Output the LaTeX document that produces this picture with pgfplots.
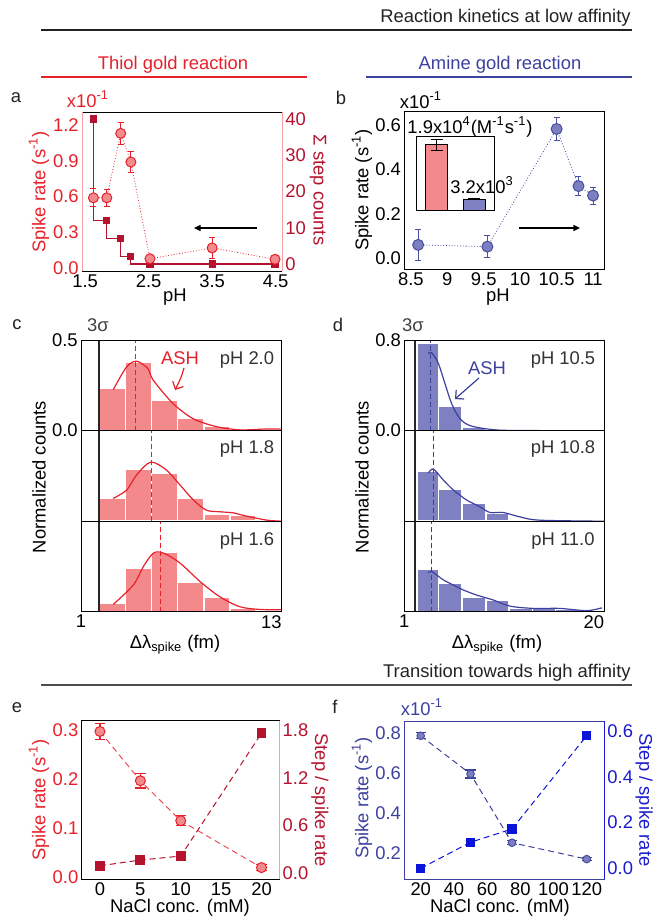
\documentclass[border=0pt]{standalone}
\usepackage{fontspec}
\setmainfont{Liberation Sans}
\usepackage{pgfplots}
\pgfplotsset{compat=1.18}
\usetikzlibrary{arrows.meta}

\definecolor{redT}{HTML}{E8202A}
\definecolor{crim}{HTML}{B5122E}
\definecolor{pinkF}{HTML}{F28B8E}
\definecolor{pinkL}{HTML}{F2A0A2}
\definecolor{barR}{HTML}{F4898C}
\definecolor{navy}{HTML}{3D419E}
\definecolor{circB}{HTML}{7B7FC2}
\definecolor{circE}{HTML}{4A4E9E}
\definecolor{barB}{HTML}{7E80C2}
\definecolor{blueR}{HTML}{1A1AD0}
\definecolor{sqB}{HTML}{0A14D8}
\definecolor{txt}{HTML}{222222}

\newcommand\fs{\fontsize{9.2}{11}\selectfont}

\pgfplotsset{
  base/.style={scale only axis, anchor=south west, axis on top,
    /pgf/number format/assume math mode=true,
    tick style={draw=none},
    tick label style={font=\fs, inner sep=1.5pt},
    axis line style={line width=0.5pt}},
  oneprec/.style={/pgf/number format/fixed, /pgf/number format/fixed zerofill, /pgf/number format/precision=1},
  hc/.style={base, xmin=1, xmax=13, ymin=0, ymax=0.5, width=100.35pt, height=45.3pt,
    xtick=\empty, ytick=\empty},
  hd/.style={base, xmin=1, xmax=20, ymin=0, ymax=0.8, width=99.85pt, height=45.3pt,
    xtick=\empty, ytick=\empty},
  barsR/.style={ybar interval, fill=barR, draw=white, line width=0.8pt},
  barsB/.style={ybar interval, fill=barB, draw=white, line width=0.8pt},
}

\begin{document}
\fs
\begin{tikzpicture}[x=0.5pt,y=-0.5pt]
\useasboundingbox (0,0) rectangle (653,920);

% headers
\node[anchor=east, text=txt, inner sep=0] at (631,18) {Reaction kinetics at low affinity};
\draw[line width=0.6pt, txt] (41,30) -- (632,30);
\node[text=redT] at (173,65) {Thiol gold reaction};
\draw[line width=0.6pt, redT] (41,77) -- (307,77);
\node[text=navy] at (500,65) {Amine gold reaction};
\draw[line width=0.6pt, navy] (366,77) -- (632,77);
\node[anchor=east, text=txt, inner sep=0] at (631,673) {Transition towards high affinity};
\draw[line width=0.6pt, black!70] (41,685) -- (632,685);

% panel letters
\node[text=txt] at (16,98) {a};
\node[text=txt] at (341,98) {b};
\node[text=txt] at (17,325) {c};
\node[text=txt] at (338,325) {d};
\node[text=txt] at (17,708) {e};
\node[text=txt] at (335,707) {f};

% ---------------- panel a ----------------
\begin{axis}[base, at={(41pt,-135.5pt)}, width=100pt, height=79.5pt,
  xmin=1.45, xmax=4.6, ymin=-1.93, ymax=41.93,
  axis x line=none, axis y line*=right, ytick={0,10,20,30,40},
  yticklabel style={text=crim}, y axis line style={draw=pinkL}]
\addplot[crim, line width=0.6pt, const plot mark right, mark=square*, mark size=1.5pt]
  coordinates {(1.63,40) (1.84,12) (2.06,7) (2.22,2) (2.52,0) (3.5,0) (4.49,0)};
\end{axis}
\begin{axis}[base, at={(41pt,-135.5pt)}, width=100pt, height=79.5pt,
  xmin=1.45, xmax=4.6, ymin=-0.023, ymax=1.309,
  xtick={1.5,2.5,3.5,4.5}, ytick={0,0.3,0.6,0.9,1.2},
  xticklabel style={oneprec}, yticklabel style={text=redT, oneprec},
  separate axis lines, y axis line style={draw=pinkL}]
\addplot[redT, line width=0.4pt, densely dotted, mark=*, mark size=2.5pt,
  mark options={solid, fill=pinkF, draw=redT, line width=0.5pt},
  error bars/.cd, y dir=both, y explicit,
  error bar style={solid, redT, line width=0.5pt},
  error mark options={rotate=90, redT, mark size=1.5pt, solid}]
  coordinates {(1.63,0.59) +- (0,0.075) (1.84,0.59) +- (0,0.07) (2.06,1.13) +- (0,0.09)
    (2.22,0.89) +- (0,0.09) (2.52,0.08) +- (0,0.02) (3.5,0.17) +- (0,0.09) (4.49,0.075) +- (0,0.015)};
\end{axis}
\draw[line width=0.6pt, -{Triangle[length=3.3pt,width=3pt]}] (257,228) -- (194,228);
\node[text=redT] at (88,99) {x10\textsuperscript{-1}};
\node[rotate=90, text=redT] at (39,192) {Spike rate (s\textsuperscript{-1})};
\node[rotate=-90, text=crim] at (318,190) {Σ step counts};
\node at (175,297) {pH};

% ---------------- panel b ----------------
\begin{axis}[base, at={(202.15pt,-134.65pt)}, width=99.85pt, height=79.15pt,
  xmin=8.41, xmax=11.15, ymin=-0.05, ymax=0.663,
  xtick={8.5,9,9.5,10,10.5,11}, ytick={0,0.2,0.4,0.6},
  yticklabel style={oneprec}]
\addplot[navy, line width=0.4pt, densely dotted, mark=*, mark size=2.75pt,
  mark options={solid, fill=circB, draw=circE, line width=0.5pt},
  error bars/.cd, y dir=both, y explicit,
  error bar style={solid, circE, line width=0.5pt},
  error mark options={rotate=90, circE, mark size=1.5pt, solid}]
  coordinates {(8.6,0.06) +- (0,0.068) (9.55,0.052) +- (0,0.05) (10.5,0.582) +- (0,0.053)
    (10.8,0.325) +- (0,0.044) (11.0,0.282) +- (0,0.038)};
\end{axis}
\begin{axis}[base, at={(208.35pt,-105pt)}, width=38.65pt, height=36.65pt,
  xmin=0.465, xmax=2.52, ymin=0, ymax=2.14, xtick=\empty, ytick=\empty, ybar]
\addplot[fill=barR, draw=black, line width=0.5pt, bar width=10.9pt, bar shift=0pt,
  error bars/.cd, y dir=both, y explicit, error bar style={black, line width=0.5pt},
  error mark options={rotate=90, black, mark size=3pt}]
  coordinates {(1,1.9) +- (0,0.17)};
\addplot[fill=barB, draw=black, line width=0.5pt, bar width=11.2pt, bar shift=0pt,
  error bars/.cd, y dir=both, y explicit, error bar style={black, line width=0.5pt},
  error mark options={rotate=90, black, mark size=3pt}]
  coordinates {(2,0.32) +- (0,0.02)};
\end{axis}
\node at (470,127) {1.9x10\textsuperscript{4}(M\textsuperscript{-1}s\textsuperscript{-1})};
\node at (482,185) {3.2x10\textsuperscript{3}};
\draw[line width=0.6pt, -{Triangle[length=3.3pt,width=3pt]}] (519,228) -- (580,228);
\node at (421,100) {x10\textsuperscript{-1}};
\node[rotate=90] at (362,190) {Spike rate (s\textsuperscript{-1})};
\node at (498,297) {pH};

% ---------------- panel c ----------------
\begin{axis}[hc, at={(40.5pt,-215.3pt)}, ytick={0,0.5}, yticklabel style={oneprec}]
\addplot[barsR] coordinates {(2.1,0.232) (3.66,0.376) (5.22,0.167) (6.78,0.07) (8.34,0.022) (9.9,0.005) (11.46,0.003) (13.02,0.003)};
\addplot[black!85, line width=1pt] coordinates {(2.08,0) (2.08,0.5)};
\addplot[redT, smooth, line width=0.6pt] coordinates {(2.93,0.226) (3.73,0.352) (4.33,0.383) (4.99,0.343) (5.32,0.278) (6.52,0.148) (7.72,0.065) (9.1,0.022) (10.5,0.004) (12.1,0.009) (13,0.008)};
\addplot[redT, line width=0.5pt, dash pattern=on 2.5pt off 1.5pt] coordinates {(4.24,0) (4.24,0.5)};
\end{axis}
\begin{axis}[hc, at={(40.5pt,-260.6pt)}]
\addplot[barsR] coordinates {(2.1,0.126) (3.66,0.289) (5.22,0.265) (6.78,0.126) (8.34,0.037) (9.9,0.035) (11.46,0.0) (13.02,0.0)};
\addplot[black!85, line width=1pt] coordinates {(2.08,0) (2.08,0.5)};
\addplot[redT, smooth, line width=0.6pt] coordinates {(2.93,0.126) (3.73,0.172) (4.33,0.256) (5.17,0.326) (6.1,0.283) (6.92,0.2) (7.72,0.117) (8.5,0.061) (9.3,0.052) (10.1,0.046) (10.9,0.028) (12.1,0.006) (13,0)};
\addplot[redT, line width=0.5pt, dash pattern=on 2.5pt off 1.5pt] coordinates {(5.23,0) (5.23,0.5)};
\end{axis}
\begin{axis}[hc, at={(40.5pt,-305.9pt)}, xtick={1,13}, xticklabels={1,\llap{13}}]
\addplot[barsR] coordinates {(2.1,0.046) (3.66,0.241) (5.22,0.33) (6.78,0.161) (8.34,0.083) (9.9,0.02) (11.46,0.0) (13.02,0.0)};
\addplot[black!85, line width=1pt] coordinates {(2.08,0) (2.08,0.5)};
\addplot[redT, smooth, line width=0.6pt] coordinates {(2.93,0.041) (4.13,0.148) (4.73,0.25) (5.33,0.324) (5.93,0.324) (6.92,0.269) (8.12,0.167) (9.3,0.083) (10.5,0.028) (11.7,0.013) (13,0.012)};
\addplot[redT, line width=0.5pt, dash pattern=on 2.5pt off 1.5pt] coordinates {(5.78,0) (5.78,0.5)};
\end{axis}
\node[text=black!75] at (98,325) {3σ};
\node[text=black!80] at (247,360) {pH 2.0};
\node[text=black!80] at (247,449) {pH 1.8};
\node[text=black!80] at (247,541) {pH 1.6};
\node[text=redT] at (180,358) {ASH};
\draw[redT, line width=0.6pt, -{Straight Barb[length=3pt,width=6pt]}] (184,368) .. controls (181,378) .. (175,390);
\node[rotate=90] at (39,477) {Normalized counts};
\node at (175,645) {Δλ\textsubscript{spike} (fm)};

% ---------------- panel d ----------------
\begin{axis}[hd, at={(202.15pt,-215.3pt)}, ytick={0,0.8}, yticklabel style={oneprec}]
\addplot[barsB] coordinates {(2.2,0.776) (4.25,0.213) (6.5,0.03) (8.75,0) (10.95,0) (13.2,0) (15.4,0) (17.6,0) (19.8,0)};
\addplot[black!85, line width=1pt] coordinates {(2.02,0) (2.02,0.8)};
\addplot[navy, smooth, line width=0.6pt] coordinates {(3.28,0.68) (3.6,0.687) (4.24,0.593) (4.87,0.415) (5.51,0.237) (6.3,0.104) (7.25,0.044) (8.84,0.015) (10.4,0.003) (14,0) (20,0)};
\addplot[navy, line width=0.5pt, dash pattern=on 2.5pt off 1.5pt] coordinates {(3.51,0) (3.51,0.8)};
\end{axis}
\begin{axis}[hd, at={(202.15pt,-260.6pt)}]
\addplot[barsB] coordinates {(2.2,0.438) (4.25,0.284) (6.5,0.157) (8.75,0.068) (10.95,0.018) (13.2,0.008) (15.4,0) (17.6,0) (19.8,0)};
\addplot[black!85, line width=1pt] coordinates {(2.02,0) (2.02,0.8)};
\addplot[navy, smooth, line width=0.6pt] coordinates {(3.28,0.424) (3.76,0.46) (4.71,0.364) (5.66,0.276) (6.93,0.187) (8.2,0.127) (9.15,0.077) (10.4,0.077) (12,0.038) (13.9,0.009) (20,0)};
\addplot[navy, line width=0.5pt, dash pattern=on 2.5pt off 1.5pt] coordinates {(3.76,0) (3.76,0.8)};
\end{axis}
\begin{axis}[hd, at={(202.15pt,-305.9pt)}, xtick={1,20}, xticklabels={1,\llap{20}}]
\addplot[barsB] coordinates {(2.2,0.38) (4.25,0.252) (6.5,0.133) (8.75,0.104) (10.95,0.03) (13.2,0.03) (15.4,0.02) (17.6,0.01) (19.8,0.01)};
\addplot[black!85, line width=1pt] coordinates {(2.02,0) (2.02,0.8)};
\addplot[navy, smooth, line width=0.6pt] coordinates {(3.28,0.341) (3.6,0.356) (4.71,0.282) (5.66,0.237) (6.61,0.193) (7.88,0.148) (9.47,0.104) (11.06,0.05) (13.3,0.03) (15.8,0.03) (18.35,0.01) (19.8,0.035)};
\addplot[navy, line width=0.5pt, dash pattern=on 2.5pt off 1.5pt] coordinates {(3.54,0) (3.54,0.8)};
\end{axis}
\node[text=black!75] at (413,325) {3σ};
\node[text=black!80] at (563,360) {pH 10.5};
\node[text=black!80] at (563,449) {pH 10.8};
\node[text=black!80] at (563,541) {pH 11.0};
\node[text=navy] at (487,368) {ASH};
\draw[navy, line width=0.6pt, -{Straight Barb[length=3pt,width=6pt]}] (479,378) -- (455,399);
\node[rotate=90] at (362,477) {Normalized counts};
\node at (497,645) {Δλ\textsubscript{spike} (fm)};

% ---------------- panel e ----------------
\begin{axis}[base, at={(40.85pt,-439.65pt)}, width=98.8pt, height=79.3pt,
  xmin=-2.26, xmax=22.2, ymin=-0.005, ymax=0.32,
  xtick={0,5,10,15,20}, ytick={0,0.1,0.2,0.3},
  yticklabel style={text=redT, oneprec}]
\addplot[redT!80, line width=0.5pt, dash pattern=on 3pt off 2pt, mark=*, mark size=2.5pt,
  mark options={solid, fill=pinkF, draw=redT, line width=0.5pt},
  error bars/.cd, y dir=both, y explicit,
  error bar style={solid, redT, line width=0.6pt},
  error mark options={rotate=90, redT, mark size=2.6pt, solid, line width=0.6pt}]
  coordinates {(0,0.298) +- (0,0.016) (5,0.197) +- (0,0.015) (10,0.115) +- (0,0.01) (20,0.019) +- (0,0.006)};
\end{axis}
\begin{axis}[base, at={(40.85pt,-439.65pt)}, width=98.8pt, height=79.3pt,
  xmin=-2.26, xmax=22.2, ymin=-0.075, ymax=1.917,
  axis x line=none, axis y line*=right, ytick={0,0.6,1.2,1.8},
  yticklabel style={text=crim, oneprec}, y axis line style={draw=pinkL}]
\addplot[crim, line width=0.5pt, dash pattern=on 3pt off 2pt, mark=square*, mark size=2.2pt, mark options={solid}]
  coordinates {(0,0.095) (5,0.167) (10,0.217) (20,1.76)};
\end{axis}
\node[rotate=90, text=redT] at (39,800) {Spike rate (s\textsuperscript{-1})};
\node[rotate=-90, text=crim] at (320,800) {Step / spike rate};
\node at (180,908) {NaCl conc. (mM)};

% ---------------- panel f ----------------
\begin{axis}[base, at={(202.15pt,-439.65pt)}, width=99.85pt, height=79.15pt,
  xmin=10.1, xmax=130.4, ymin=0.067, ymax=0.859,
  xtick={20,40,60,80,100,120}, ytick={0.2,0.4,0.6,0.8},
  yticklabel style={text=navy, oneprec}, axis line style={draw=navy}]
\addplot[navy, line width=0.5pt, dash pattern=on 3pt off 2pt, mark=*, mark size=1.9pt,
  mark options={solid, fill=circB, draw=circE, line width=0.5pt},
  error bars/.cd, y dir=both, y explicit,
  error bar style={solid, navy, line width=0.6pt},
  error mark options={rotate=90, navy, mark size=2.6pt, solid, line width=0.6pt}]
  coordinates {(20,0.785) +- (0,0.015) (50,0.594) +- (0,0.02) (75,0.25) +- (0,0.01) (120,0.168) +- (0,0.008)};
\end{axis}
\begin{axis}[base, at={(202.15pt,-439.65pt)}, width=99.85pt, height=79.15pt,
  xmin=10.1, xmax=130.4, ymin=-0.048, ymax=0.644,
  axis x line=none, axis y line*=right, ytick={0,0.2,0.4,0.6},
  yticklabel style={text=blueR, oneprec}, y axis line style={draw=blueR}]
\addplot[sqB, line width=0.5pt, dash pattern=on 3pt off 2pt, mark=square*, mark size=2.1pt, mark options={solid}]
  coordinates {(20,0) (50,0.114) (75,0.172) (120,0.58)};
\end{axis}
\node[text=navy] at (422,707) {x10\textsuperscript{-1}};
\node[rotate=90, text=navy] at (362,798) {Spike rate (s\textsuperscript{-1})};
\node[rotate=-90, text=blueR] at (644,800) {Step / spike rate};
\node at (500,908) {NaCl conc. (mM)};
\end{tikzpicture}
\end{document}
